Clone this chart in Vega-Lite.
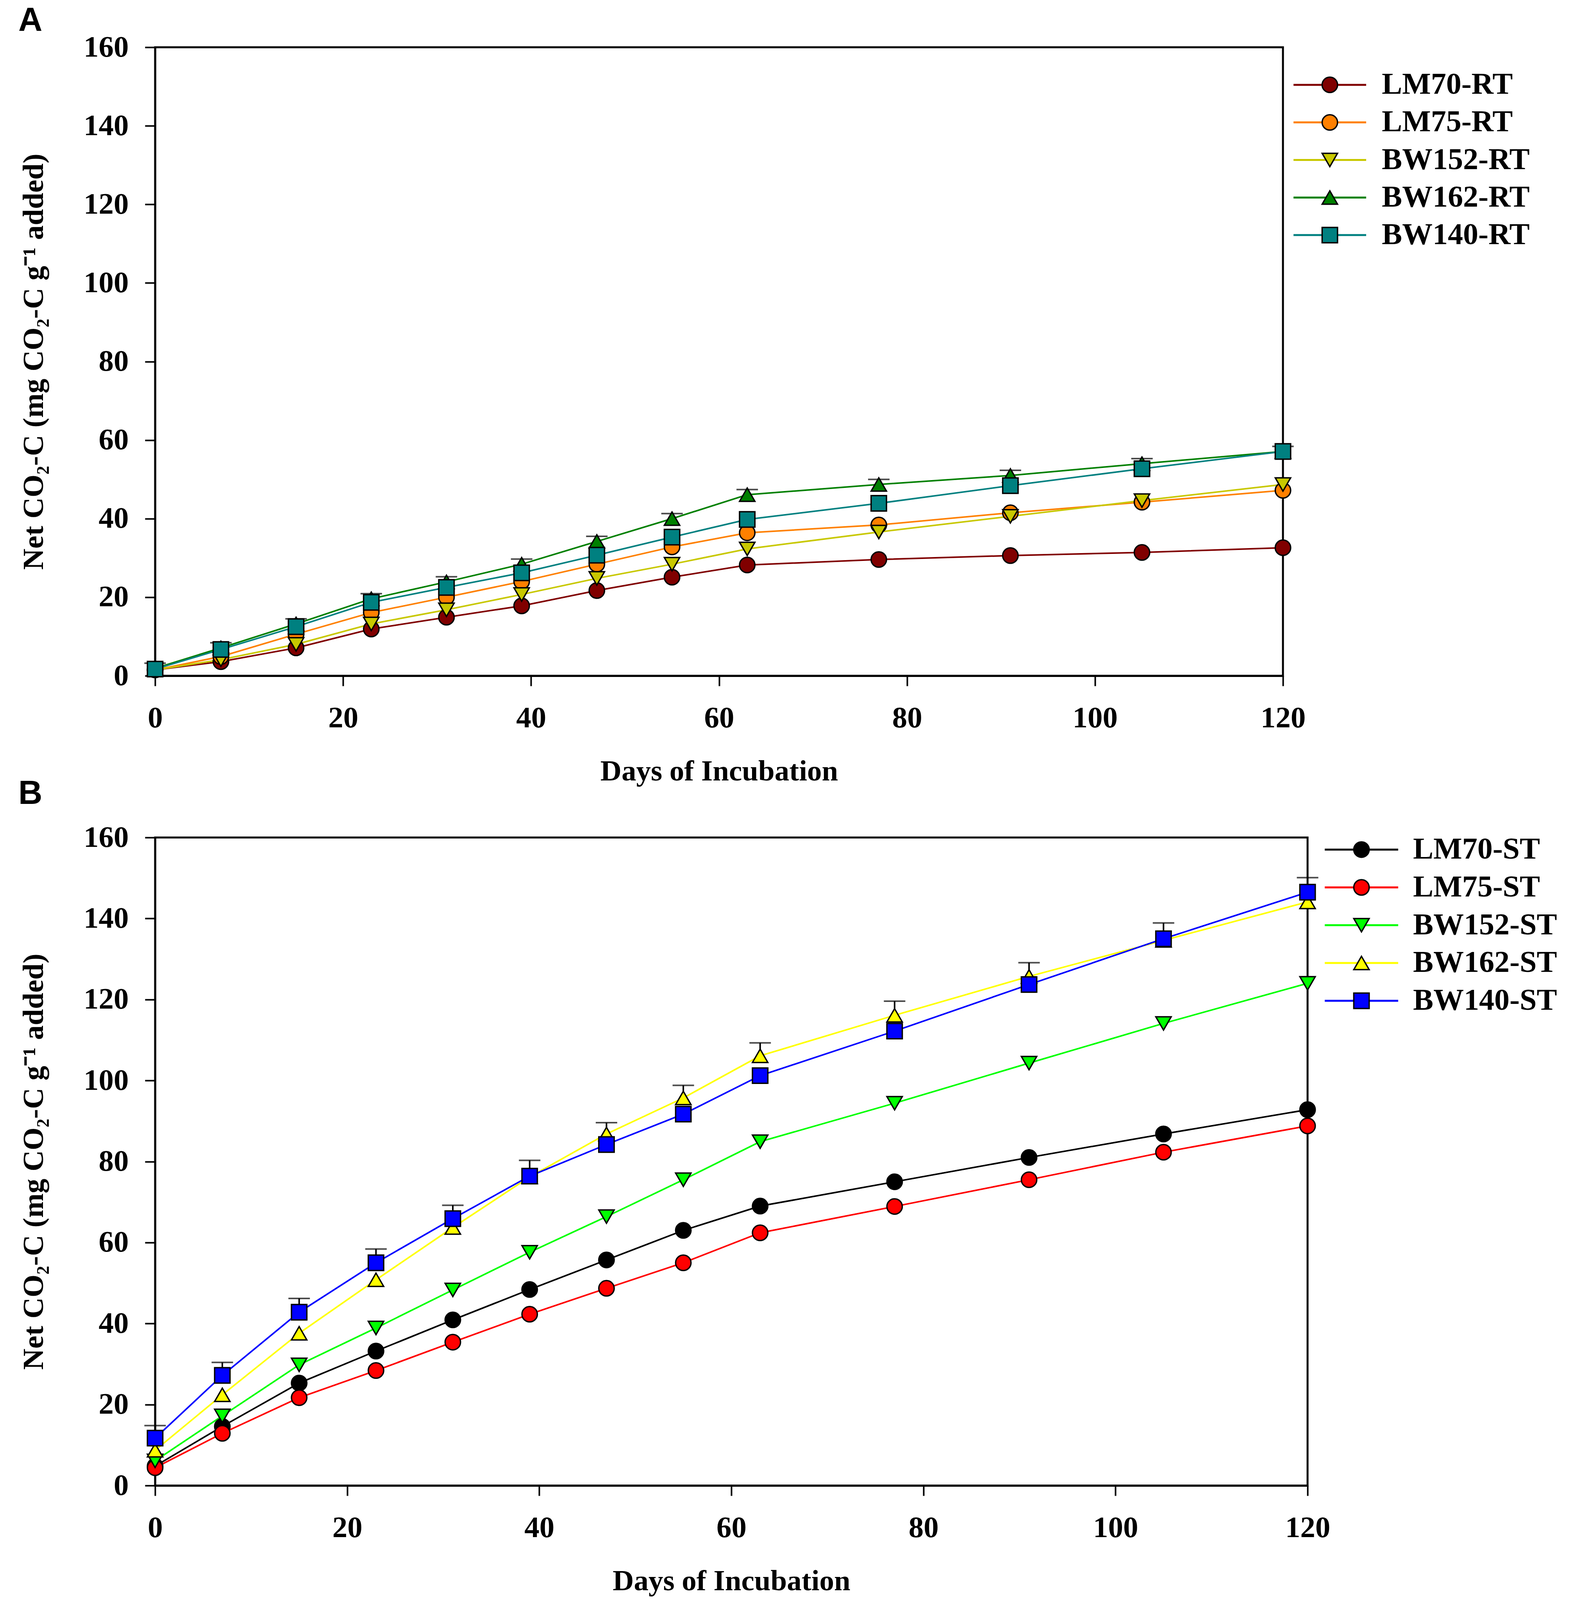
{
  "$schema": "https://vega.github.io/schema/vega-lite/v6.json",
  "background": "white",
  "padding": {"left": 47, "top": 10, "right": 0, "bottom": 0},
  "config": {
    "view": {"stroke": null},
    "font": "Liberation Serif",
    "axis": {
      "grid": false,
      "domainColor": "black",
      "domainWidth": 5,
      "tickColor": "black",
      "tickWidth": 4,
      "tickSize": 26,
      "labelFont": "Liberation Serif",
      "labelFontSize": 77,
      "labelFontWeight": "bold",
      "labelColor": "black",
      "labelFlush": false,
      "labelOverlap": false,
      "titleFont": "Liberation Serif",
      "titleFontSize": 75,
      "titleFontWeight": "bold",
      "titleColor": "black"
    },
    "axisX": {"labelPadding": 44, "titlePadding": 62},
    "axisY": {"labelPadding": 42, "titlePadding": 88}
  },
  "datasets": {
    "A": [
      {"day": 0, "series": "LM70-RT", "value": 1.5},
      {"day": 7, "series": "LM70-RT", "value": 3.6},
      {"day": 15, "series": "LM70-RT", "value": 7.1},
      {"day": 23, "series": "LM70-RT", "value": 11.9},
      {"day": 31, "series": "LM70-RT", "value": 14.9},
      {"day": 39, "series": "LM70-RT", "value": 17.8},
      {"day": 47, "series": "LM70-RT", "value": 21.7},
      {"day": 55, "series": "LM70-RT", "value": 25.1},
      {"day": 63, "series": "LM70-RT", "value": 28.2},
      {"day": 77, "series": "LM70-RT", "value": 29.6},
      {"day": 91, "series": "LM70-RT", "value": 30.6},
      {"day": 105, "series": "LM70-RT", "value": 31.4},
      {"day": 120, "series": "LM70-RT", "value": 32.6},
      {"day": 0, "series": "LM75-RT", "value": 1.5},
      {"day": 7, "series": "LM75-RT", "value": 4.9},
      {"day": 15, "series": "LM75-RT", "value": 10.6},
      {"day": 23, "series": "LM75-RT", "value": 16.1},
      {"day": 31, "series": "LM75-RT", "value": 20},
      {"day": 39, "series": "LM75-RT", "value": 24},
      {"day": 47, "series": "LM75-RT", "value": 28.4},
      {"day": 55, "series": "LM75-RT", "value": 32.8},
      {"day": 63, "series": "LM75-RT", "value": 36.4},
      {"day": 77, "series": "LM75-RT", "value": 38.4},
      {"day": 91, "series": "LM75-RT", "value": 41.5},
      {"day": 105, "series": "LM75-RT", "value": 44.2},
      {"day": 120, "series": "LM75-RT", "value": 47.2},
      {"day": 0, "series": "BW152-RT", "value": 1.5},
      {"day": 7, "series": "BW152-RT", "value": 4.1},
      {"day": 15, "series": "BW152-RT", "value": 8},
      {"day": 23, "series": "BW152-RT", "value": 13.2},
      {"day": 31, "series": "BW152-RT", "value": 16.8},
      {"day": 39, "series": "BW152-RT", "value": 20.7},
      {"day": 47, "series": "BW152-RT", "value": 24.8},
      {"day": 55, "series": "BW152-RT", "value": 28.4},
      {"day": 63, "series": "BW152-RT", "value": 32.3},
      {"day": 77, "series": "BW152-RT", "value": 36.6},
      {"day": 91, "series": "BW152-RT", "value": 40.6},
      {"day": 105, "series": "BW152-RT", "value": 44.6},
      {"day": 120, "series": "BW152-RT", "value": 48.7},
      {"day": 0, "series": "BW162-RT", "value": 1.9, "hi": 3.2},
      {"day": 7, "series": "BW162-RT", "value": 7.1, "hi": 8.4},
      {"day": 15, "series": "BW162-RT", "value": 13.2, "hi": 14.5},
      {"day": 23, "series": "BW162-RT", "value": 19.6, "hi": 20.9},
      {"day": 31, "series": "BW162-RT", "value": 23.9, "hi": 25.2},
      {"day": 39, "series": "BW162-RT", "value": 28.4, "hi": 29.7},
      {"day": 47, "series": "BW162-RT", "value": 34.2, "hi": 35.5},
      {"day": 55, "series": "BW162-RT", "value": 40, "hi": 41.3},
      {"day": 63, "series": "BW162-RT", "value": 46.1, "hi": 47.4},
      {"day": 77, "series": "BW162-RT", "value": 48.7, "hi": 50},
      {"day": 91, "series": "BW162-RT", "value": 51, "hi": 52.3},
      {"day": 105, "series": "BW162-RT", "value": 54, "hi": 55.3},
      {"day": 120, "series": "BW162-RT", "value": 57.1, "hi": 58.4},
      {"day": 0, "series": "BW140-RT", "value": 1.7},
      {"day": 7, "series": "BW140-RT", "value": 6.7},
      {"day": 15, "series": "BW140-RT", "value": 12.5},
      {"day": 23, "series": "BW140-RT", "value": 18.7},
      {"day": 31, "series": "BW140-RT", "value": 22.5},
      {"day": 39, "series": "BW140-RT", "value": 26.2},
      {"day": 47, "series": "BW140-RT", "value": 30.7},
      {"day": 55, "series": "BW140-RT", "value": 35.3},
      {"day": 63, "series": "BW140-RT", "value": 39.8},
      {"day": 77, "series": "BW140-RT", "value": 43.9},
      {"day": 91, "series": "BW140-RT", "value": 48.4},
      {"day": 105, "series": "BW140-RT", "value": 52.7},
      {"day": 120, "series": "BW140-RT", "value": 57.1}
    ],
    "B": [
      {"day": 0, "series": "LM70-ST", "value": 4.8},
      {"day": 7, "series": "LM70-ST", "value": 14.6},
      {"day": 15, "series": "LM70-ST", "value": 25.3},
      {"day": 23, "series": "LM70-ST", "value": 33.2},
      {"day": 31, "series": "LM70-ST", "value": 40.9},
      {"day": 39, "series": "LM70-ST", "value": 48.4},
      {"day": 47, "series": "LM70-ST", "value": 55.7},
      {"day": 55, "series": "LM70-ST", "value": 63},
      {"day": 63, "series": "LM70-ST", "value": 69},
      {"day": 77, "series": "LM70-ST", "value": 75},
      {"day": 91, "series": "LM70-ST", "value": 81},
      {"day": 105, "series": "LM70-ST", "value": 86.8},
      {"day": 120, "series": "LM70-ST", "value": 92.8},
      {"day": 0, "series": "LM75-ST", "value": 4.4},
      {"day": 7, "series": "LM75-ST", "value": 12.9},
      {"day": 15, "series": "LM75-ST", "value": 21.7},
      {"day": 23, "series": "LM75-ST", "value": 28.4},
      {"day": 31, "series": "LM75-ST", "value": 35.4},
      {"day": 39, "series": "LM75-ST", "value": 42.3},
      {"day": 47, "series": "LM75-ST", "value": 48.7},
      {"day": 55, "series": "LM75-ST", "value": 55},
      {"day": 63, "series": "LM75-ST", "value": 62.4},
      {"day": 77, "series": "LM75-ST", "value": 68.9},
      {"day": 91, "series": "LM75-ST", "value": 75.5},
      {"day": 105, "series": "LM75-ST", "value": 82.3},
      {"day": 120, "series": "LM75-ST", "value": 88.8},
      {"day": 0, "series": "BW152-ST", "value": 6.1},
      {"day": 7, "series": "BW152-ST", "value": 17.2},
      {"day": 15, "series": "BW152-ST", "value": 29.8},
      {"day": 23, "series": "BW152-ST", "value": 38.9},
      {"day": 31, "series": "BW152-ST", "value": 48.3},
      {"day": 39, "series": "BW152-ST", "value": 57.6},
      {"day": 47, "series": "BW152-ST", "value": 66.4},
      {"day": 55, "series": "BW152-ST", "value": 75.5},
      {"day": 63, "series": "BW152-ST", "value": 84.9},
      {"day": 77, "series": "BW152-ST", "value": 94.4},
      {"day": 91, "series": "BW152-ST", "value": 104.3},
      {"day": 105, "series": "BW152-ST", "value": 114.1},
      {"day": 120, "series": "BW152-ST", "value": 124},
      {"day": 0, "series": "BW162-ST", "value": 8.7},
      {"day": 7, "series": "BW162-ST", "value": 22.4},
      {"day": 15, "series": "BW162-ST", "value": 37.6},
      {"day": 23, "series": "BW162-ST", "value": 50.8},
      {"day": 31, "series": "BW162-ST", "value": 63.7},
      {"day": 39, "series": "BW162-ST", "value": 76.2},
      {"day": 47, "series": "BW162-ST", "value": 86.8, "hi": 89.6},
      {"day": 55, "series": "BW162-ST", "value": 95.7, "hi": 98.8},
      {"day": 63, "series": "BW162-ST", "value": 106.1, "hi": 109.3},
      {"day": 77, "series": "BW162-ST", "value": 116.1, "hi": 119.6},
      {"day": 91, "series": "BW162-ST", "value": 125.7, "hi": 129.1},
      {"day": 105, "series": "BW162-ST", "value": 134.6},
      {"day": 120, "series": "BW162-ST", "value": 144.1},
      {"day": 0, "series": "BW140-ST", "value": 11.7, "hi": 14.8},
      {"day": 7, "series": "BW140-ST", "value": 27.2, "hi": 30.4},
      {"day": 15, "series": "BW140-ST", "value": 42.8, "hi": 46.2},
      {"day": 23, "series": "BW140-ST", "value": 55, "hi": 58.4},
      {"day": 31, "series": "BW140-ST", "value": 65.9, "hi": 69.2},
      {"day": 39, "series": "BW140-ST", "value": 76.4, "hi": 80.3},
      {"day": 47, "series": "BW140-ST", "value": 84.2},
      {"day": 55, "series": "BW140-ST", "value": 91.7},
      {"day": 63, "series": "BW140-ST", "value": 101.2},
      {"day": 77, "series": "BW140-ST", "value": 112.2},
      {"day": 91, "series": "BW140-ST", "value": 123.7},
      {"day": 105, "series": "BW140-ST", "value": 135, "hi": 138.9},
      {"day": 120, "series": "BW140-ST", "value": 146.5, "hi": 150.1}
    ],
    "legA": [
      {"series": "LM70-RT"},
      {"series": "LM75-RT"},
      {"series": "BW152-RT"},
      {"series": "BW162-RT"},
      {"series": "BW140-RT"}
    ],
    "legB": [
      {"series": "LM70-ST"},
      {"series": "LM75-ST"},
      {"series": "BW152-ST"},
      {"series": "BW162-ST"},
      {"series": "BW140-ST"}
    ]
  },
  "resolve": {"scale": {"color": "independent", "shape": "independent"}},
  "spacing": -26,
  "vconcat": [
    {
      "title": {"text": "A", "anchor": "start", "font": "Liberation Sans", "fontSize": 85, "fontWeight": "bold", "color": "black", "offset": -17},
      "bounds": "flush",
      "spacing": 27,
      "hconcat": [
        {
          "width": 2887,
          "height": 1609,
          "view": {"stroke": "black", "strokeWidth": 5},
          "data": {"name": "A"},
          "encoding": {
            "x": {"field": "day", "type": "quantitative", "scale": {"domain": [0, 120], "nice": false}, "axis": {"values": [0, 20, 40, 60, 80, 100, 120], "title": "Days of Incubation"}},
            "y": {"field": "value", "type": "quantitative", "scale": {"domain": [0, 160], "nice": false}, "axis": {"values": [0, 20, 40, 60, 80, 100, 120, 140, 160], "title": "Net CO₂-C (mg CO₂-C g⁻¹ added)"}}
          },
          "layer": [
            {
              "mark": {"type": "line", "strokeWidth": 4},
              "encoding": {
                "color": {"field": "series", "type": "nominal", "scale": {"domain": ["LM70-RT", "LM75-RT", "BW152-RT", "BW162-RT", "BW140-RT"], "range": ["#800000", "#FF8000", "#C8C800", "#008000", "#008080"]}, "legend": null}
              }
            },
            {
              "transform": [{"filter": "isValid(datum.hi)"}],
              "mark": {"type": "rule", "strokeWidth": 4, "color": "black"},
              "encoding": {"y2": {"field": "hi"}}
            },
            {
              "transform": [{"filter": "isValid(datum.hi)"}],
              "mark": {"type": "tick", "orient": "horizontal", "thickness": 4, "size": 55, "color": "black"},
              "encoding": {"y": {"field": "hi", "type": "quantitative"}}
            },
            {
              "mark": {"type": "point", "filled": true, "opacity": 1, "size": 1550, "stroke": "black", "strokeWidth": 3.5},
              "encoding": {
                "color": {"field": "series", "type": "nominal", "scale": {"domain": ["LM70-RT", "LM75-RT", "BW152-RT", "BW162-RT", "BW140-RT"], "range": ["#800000", "#FF8000", "#C8C800", "#008000", "#008080"]}, "legend": null},
                "shape": {"field": "series", "type": "nominal", "scale": {"domain": ["LM70-RT", "LM75-RT", "BW152-RT", "BW162-RT", "BW140-RT"], "range": ["circle", "circle", "triangle-down", "triangle-up", "square"]}, "legend": null}
              }
            }
          ]
        },
        {
          "width": 186,
          "height": 577,
          "data": {"name": "legA"},
          "encoding": {
            "y": {"field": "series", "type": "nominal", "scale": {"type": "point", "padding": 1.013, "domain": ["LM70-RT", "LM75-RT", "BW152-RT", "BW162-RT", "BW140-RT"]}, "axis": null}
          },
          "layer": [
            {
              "mark": {"type": "rule", "strokeWidth": 5},
              "encoding": {
                "x": {"datum": 0, "type": "quantitative", "scale": {"domain": [0, 1]}, "axis": null},
                "x2": {"datum": 1},
                "color": {"field": "series", "type": "nominal", "scale": {"domain": ["LM70-RT", "LM75-RT", "BW152-RT", "BW162-RT", "BW140-RT"], "range": ["#800000", "#FF8000", "#C8C800", "#008000", "#008080"]}, "legend": null}
              }
            },
            {
              "mark": {"type": "point", "filled": true, "opacity": 1, "size": 1550, "stroke": "black", "strokeWidth": 3.5},
              "encoding": {
                "x": {"datum": 0.5, "type": "quantitative", "axis": null},
                "color": {"field": "series", "type": "nominal", "scale": {"domain": ["LM70-RT", "LM75-RT", "BW152-RT", "BW162-RT", "BW140-RT"], "range": ["#800000", "#FF8000", "#C8C800", "#008000", "#008080"]}, "legend": null},
                "shape": {"field": "series", "type": "nominal", "scale": {"domain": ["LM70-RT", "LM75-RT", "BW152-RT", "BW162-RT", "BW140-RT"], "range": ["circle", "circle", "triangle-down", "triangle-up", "square"]}, "legend": null}
              }
            },
            {
              "mark": {"type": "text", "align": "left", "baseline": "middle", "dx": 40, "font": "Liberation Serif", "fontSize": 78, "fontWeight": "bold", "color": "black"},
              "encoding": {
                "x": {"datum": 1, "type": "quantitative", "axis": null},
                "text": {"field": "series"}
              }
            }
          ]
        }
      ]
    },
    {
      "title": {"text": "B", "anchor": "start", "font": "Liberation Sans", "fontSize": 85, "fontWeight": "bold", "color": "black", "offset": 27},
      "bounds": "flush",
      "spacing": 44,
      "hconcat": [
        {
          "width": 2950,
          "height": 1659,
          "view": {"stroke": "black", "strokeWidth": 5},
          "data": {"name": "B"},
          "encoding": {
            "x": {"field": "day", "type": "quantitative", "scale": {"domain": [0, 120], "nice": false}, "axis": {"values": [0, 20, 40, 60, 80, 100, 120], "title": "Days of Incubation"}},
            "y": {"field": "value", "type": "quantitative", "scale": {"domain": [0, 160], "nice": false}, "axis": {"values": [0, 20, 40, 60, 80, 100, 120, 140, 160], "title": "Net CO₂-C (mg CO₂-C g⁻¹ added)"}}
          },
          "layer": [
            {
              "mark": {"type": "line", "strokeWidth": 4},
              "encoding": {
                "color": {"field": "series", "type": "nominal", "scale": {"domain": ["LM70-ST", "LM75-ST", "BW152-ST", "BW162-ST", "BW140-ST"], "range": ["#000000", "#FF0000", "#00FF00", "#FFFF00", "#0000FF"]}, "legend": null}
              }
            },
            {
              "transform": [{"filter": "isValid(datum.hi)"}],
              "mark": {"type": "rule", "strokeWidth": 4, "color": "black"},
              "encoding": {"y2": {"field": "hi"}}
            },
            {
              "transform": [{"filter": "isValid(datum.hi)"}],
              "mark": {"type": "tick", "orient": "horizontal", "thickness": 4, "size": 55, "color": "black"},
              "encoding": {"y": {"field": "hi", "type": "quantitative"}}
            },
            {
              "mark": {"type": "point", "filled": true, "opacity": 1, "size": 1550, "stroke": "black", "strokeWidth": 3.5},
              "encoding": {
                "color": {"field": "series", "type": "nominal", "scale": {"domain": ["LM70-ST", "LM75-ST", "BW152-ST", "BW162-ST", "BW140-ST"], "range": ["#000000", "#FF0000", "#00FF00", "#FFFF00", "#0000FF"]}, "legend": null},
                "shape": {"field": "series", "type": "nominal", "scale": {"domain": ["LM70-ST", "LM75-ST", "BW152-ST", "BW162-ST", "BW140-ST"], "range": ["circle", "circle", "triangle-down", "triangle-up", "square"]}, "legend": null}
              }
            }
          ]
        },
        {
          "width": 188,
          "height": 449,
          "data": {"name": "legB"},
          "encoding": {
            "y": {"field": "series", "type": "nominal", "scale": {"type": "point", "padding": 0.32, "domain": ["LM70-ST", "LM75-ST", "BW152-ST", "BW162-ST", "BW140-ST"]}, "axis": null}
          },
          "layer": [
            {
              "mark": {"type": "rule", "strokeWidth": 5},
              "encoding": {
                "x": {"datum": 0, "type": "quantitative", "scale": {"domain": [0, 1]}, "axis": null},
                "x2": {"datum": 1},
                "color": {"field": "series", "type": "nominal", "scale": {"domain": ["LM70-ST", "LM75-ST", "BW152-ST", "BW162-ST", "BW140-ST"], "range": ["#000000", "#FF0000", "#00FF00", "#FFFF00", "#0000FF"]}, "legend": null}
              }
            },
            {
              "mark": {"type": "point", "filled": true, "opacity": 1, "size": 1550, "stroke": "black", "strokeWidth": 3.5},
              "encoding": {
                "x": {"datum": 0.5, "type": "quantitative", "axis": null},
                "color": {"field": "series", "type": "nominal", "scale": {"domain": ["LM70-ST", "LM75-ST", "BW152-ST", "BW162-ST", "BW140-ST"], "range": ["#000000", "#FF0000", "#00FF00", "#FFFF00", "#0000FF"]}, "legend": null},
                "shape": {"field": "series", "type": "nominal", "scale": {"domain": ["LM70-ST", "LM75-ST", "BW152-ST", "BW162-ST", "BW140-ST"], "range": ["circle", "circle", "triangle-down", "triangle-up", "square"]}, "legend": null}
              }
            },
            {
              "mark": {"type": "text", "align": "left", "baseline": "middle", "dx": 38, "font": "Liberation Serif", "fontSize": 78, "fontWeight": "bold", "color": "black"},
              "encoding": {
                "x": {"datum": 1, "type": "quantitative", "axis": null},
                "text": {"field": "series"}
              }
            }
          ]
        }
      ]
    }
  ]
}
